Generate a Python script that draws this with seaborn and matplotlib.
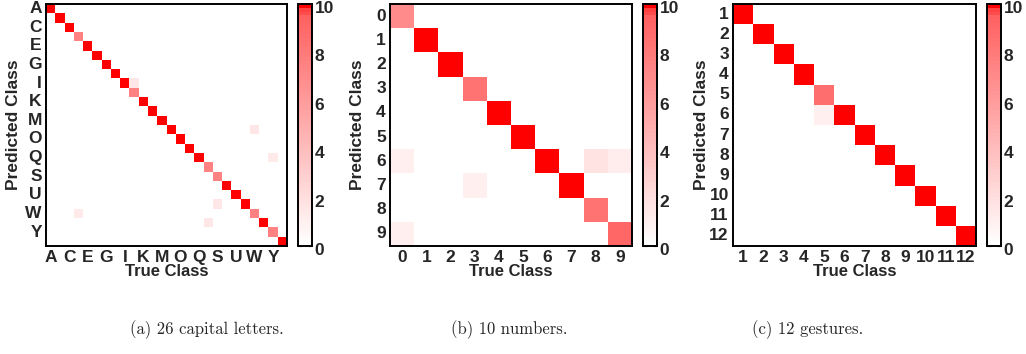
import numpy as np
import pandas as pd
import seaborn as sns
import matplotlib
matplotlib.use("Agg")
import matplotlib.pyplot as plt
from matplotlib.colors import ListedColormap
from matplotlib import font_manager
from matplotlib.transforms import ScaledTranslation

# ---------------- data ----------------
letters = [chr(ord('A') + i) for i in range(26)]
letters_diag = [10, 10, 10, 7.5, 10, 10, 10, 10, 10, 7.5, 10, 10, 10, 10, 10, 10, 10,
                7.5, 7.5, 10, 10, 10, 7.5, 10, 7.5, 10]
# (predicted row, true col, value)
letters_off_rows = [8, 13, 16, 21, 22, 23]
letters_off_cols = [9, 22, 24, 18, 3, 17]
letters_off_vals = [1.5, 1.5, 1.3, 1.5, 1.3, 1.5]

numbers = [str(i) for i in range(10)]
numbers_diag = [7, 10, 10, 8.3, 10, 10, 10, 10, 8.3, 9.2]
numbers_off_rows = [6, 9, 7, 6, 6]
numbers_off_cols = [0, 0, 3, 8, 9]
numbers_off_vals = [1.0, 1.0, 1.0, 1.8, 1.2]

gestures = [str(i) for i in range(1, 13)]
gestures_diag = [10, 10, 10, 10, 8.6, 10, 10, 10, 10, 10, 10, 10]
gestures_off_rows = [5]
gestures_off_cols = [4]
gestures_off_vals = [1.0]

captions = ["(a) 26 capital letters.", "(b) 10 numbers.", "(c) 12 gestures."]


def build(labels, diag, rows, cols, vals):
    m = np.diag(np.array(diag, dtype=float))
    for r, c, v in zip(rows, cols, vals):
        m[r, c] = v
    return pd.DataFrame(m, index=labels, columns=labels)


mats = [
    build(letters, letters_diag, letters_off_rows, letters_off_cols, letters_off_vals),
    build(numbers, numbers_diag, numbers_off_rows, numbers_off_cols, numbers_off_vals),
    build(gestures, gestures_diag, gestures_off_rows, gestures_off_cols, gestures_off_vals),
]

# ---------------- style ----------------
sns.set_style("white")
avail = {f.name for f in font_manager.fontManager.ttflist}
sans = "Liberation Sans" if "Liberation Sans" in avail else "DejaVu Sans"
serif = "cmr10" if "cmr10" in avail else "DejaVu Serif"
plt.rcParams["font.family"] = [sans, "DejaVu Sans"]
plt.rcParams["font.weight"] = "bold"

# colormap: white -> light red gradient, then a couple of top red bands
n = 64
g = np.linspace(1.0, 0.38, n - 3)
cols_list = [(1.0, v, v) for v in g] + [(1.0, 0.3, 0.3), (1.0, 0.26, 0.26), (1.0, 0.0, 0.0)]
cmap = ListedColormap(cols_list)

W, H = 1026, 354
fig = plt.figure(figsize=(W / 100, H / 100), dpi=100)


def rect(x0, x1, ytop, ybot):
    return [x0 / W, (H - ybot) / H, (x1 - x0) / W, (ybot - ytop) / H]


panels = [
    dict(ax=(46, 287), cb=(298, 312), ylab_x=14, cap_x=207),
    dict(ax=(390, 632), cb=(643, 657), ylab_x=357, cap_x=509),
    dict(ax=(733, 976), cb=(987, 1001), ylab_x=702, cap_x=808),
]
ytop, ybot = 4, 246

for k, (df, p) in enumerate(zip(mats, panels)):
    ax = fig.add_axes(rect(p["ax"][0], p["ax"][1], ytop, ybot))
    cax = fig.add_axes(rect(p["cb"][0], p["cb"][1], ytop, ybot))
    labels = list(df.columns)
    if len(labels) == 26:
        shown = [l if i % 2 == 0 else "" for i, l in enumerate(labels)]
    else:
        shown = labels
    sns.heatmap(df, ax=ax, cbar_ax=cax, cmap=cmap, vmin=0, vmax=10,
                xticklabels=shown, yticklabels=shown, square=False,
                cbar_kws=dict(ticks=[0, 2, 4, 6, 8, 10]))
    for s in ax.spines.values():
        s.set_visible(True)
        s.set_color("black")
        s.set_linewidth(1.4)
    ax.tick_params(direction="in", length=3, width=0.8, top=True, right=True,
                   left=True, bottom=True, labeltop=False, labelright=False,
                   labelsize=12.5, pad=3, color="black")
    plt.setp(ax.get_yticklabels(), rotation=0, fontweight="bold")
    plt.setp(ax.get_xticklabels(), rotation=0, fontweight="bold")
    ax.set_xlabel("True Class", fontsize=12, fontweight="bold", labelpad=-1)
    ax.set_ylabel("")
    fig.text(p["ylab_x"] / W, 1 - 125 / H, "Predicted Class", rotation=90,
             ha="center", va="center", fontsize=12.5, fontweight="bold")

    cb = ax.collections[0].colorbar
    cb.outline.set_visible(True)
    cb.outline.set_linewidth(1.4)
    cb.outline.set_edgecolor("black")
    cax.tick_params(direction="in", length=3, width=0.8, left=True, right=True,
                    labelsize=12.5, pad=2, color="black")
    off = ScaledTranslation(0, -3 / 100, fig.dpi_scale_trans)
    for t in cax.get_yticklabels():
        t.set_fontweight("bold")
        t.set_transform(t.get_transform() + off)

    fig.text(p["cap_x"] / W, 1 - 330 / H, captions[k], ha="center", va="center",
             fontsize=12, family=serif, fontweight="normal")

fig.savefig("out.png", dpi=100)
